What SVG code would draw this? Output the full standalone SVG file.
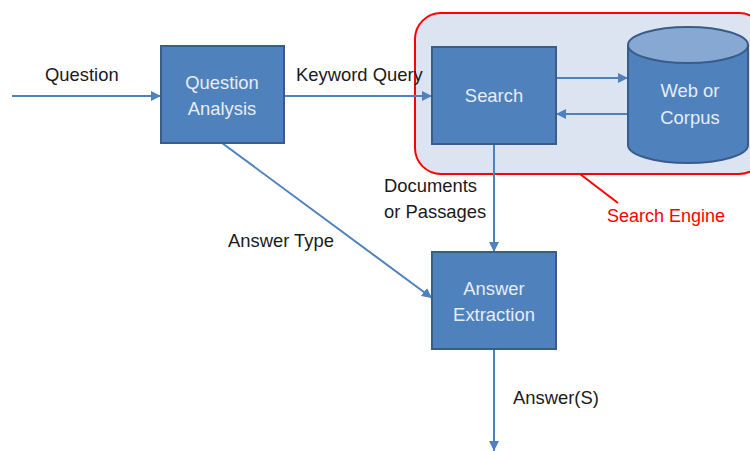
<svg xmlns="http://www.w3.org/2000/svg" width="750" height="451" viewBox="0 0 750 451">
<defs>
<marker id="arr" viewBox="0 0 10 10" refX="10" refY="5" markerWidth="10" markerHeight="10" markerUnits="userSpaceOnUse" orient="auto"><path d="M0,0 L10,5 L0,10 z" fill="#4f81bd"/></marker>
<style>
.box{fill:#4f81bd;stroke:#385d8a;stroke-width:2}
.bt{font-family:"Liberation Sans",Arial,sans-serif;font-size:18.4px;fill:#e6edf6;text-anchor:middle}
.lb{font-family:"Liberation Sans",Arial,sans-serif;font-size:18.4px;fill:#1a1a1a}
.ln{stroke:#4f81bd;stroke-width:2;fill:none;marker-end:url(#arr)}
</style>
</defs>
<rect width="750" height="451" fill="#fff"/>
<g id="search-engine">
<rect x="415" y="13" width="350" height="161" rx="26" fill="#dbe4f0" stroke="#ff0000" stroke-width="2"/>
<line x1="580" y1="174" x2="618" y2="203" stroke="#ff0000" stroke-width="2"/>
<text x="666" y="222" class="lb" style="fill:#ff0000;text-anchor:middle;font-size:18px">Search Engine</text>
</g>
<g id="connectors">
<line class="ln" x1="12" y1="96" x2="161" y2="96"/>
<line class="ln" x1="284" y1="96" x2="432" y2="96"/>
<line class="ln" x1="556" y1="78" x2="628" y2="78"/>
<line class="ln" x1="628" y1="114" x2="556" y2="114"/>
<line class="ln" x1="494" y1="144" x2="494" y2="252"/>
<line class="ln" x1="222" y1="143" x2="432" y2="298"/>
<line class="ln" x1="494" y1="349" x2="494" y2="451"/>
</g>
<g id="labels">
<text x="45" y="81" class="lb">Question</text>
<text x="296" y="81" class="lb">Keyword Query</text>
<text x="384" y="192" class="lb">Documents</text>
<text x="384" y="218" class="lb">or Passages</text>
<text x="228" y="247" class="lb">Answer Type</text>
<text x="513" y="404" class="lb">Answer(S)</text>
</g>
<g id="question-analysis">
<rect class="box" x="161" y="46" width="123" height="97"/>
<text x="222" y="89" class="bt">Question</text>
<text x="222" y="115" class="bt">Analysis</text>
</g>
<g id="search">
<rect class="box" x="432" y="47" width="124" height="97"/>
<text x="494" y="102" class="bt">Search</text>
</g>
<g id="web-corpus">
<path d="M628,45 L628,145 A60,18 0 0 0 748,145 L748,45" class="box"/>
<ellipse cx="688" cy="45" rx="60" ry="18" fill="#86a8d3" stroke="#385d8a" stroke-width="2"/>
<text x="690" y="97" class="bt">Web or</text>
<text x="690" y="124" class="bt">Corpus</text>
</g>
<g id="answer-extraction">
<rect class="box" x="432" y="252" width="124" height="97"/>
<text x="494" y="295" class="bt">Answer</text>
<text x="494" y="321" class="bt">Extraction</text>
</g>
</svg>
